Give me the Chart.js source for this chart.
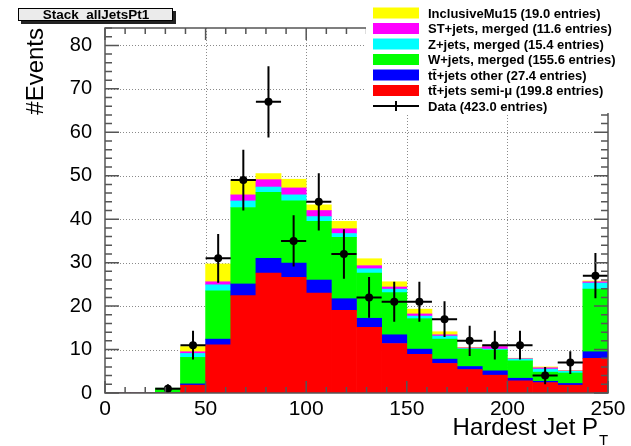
<!DOCTYPE html>
<html>
<head>
<meta charset="utf-8">
<script src="https://cdn.jsdelivr.net/npm/chart.js@4.4.1/dist/chart.umd.min.js"></script>
<style>
	body { margin: 0; background: #fff; }
	#wrap { width: 631px; height: 446px; }
</style>
</head>
<body>
<div id="wrap"><canvas id="c" width="631" height="446"></canvas></div>
<script>
// leading jet pT, 20 bins of 12.5 GeV from 0 to 250
const binCenters = [6.25, 18.75, 31.25, 43.75, 56.25, 68.75, 81.25, 93.75, 106.25, 118.75,
	131.25, 143.75, 156.25, 168.75, 181.25, 193.75, 206.25, 218.75, 231.25, 243.75];
const binWidth = 12.5;

// MC samples, stacked bottom to top
const ttSemiMu  = [0, 0, 0, 1.8, 11.1, 22.4, 27.6, 26.6, 23.0, 19.0, 15.1, 11.4, 8.9, 6.8, 5.4, 4.1, 2.8, 2.4, 1.8, 8.0];
const ttOther   = [0, 0, 0, 0.3, 1.3, 2.7, 3.4, 3.3, 3.0, 2.7, 2.1, 2.0, 1.2, 1.0, 0.7, 1.0, 0.6, 0.3, 0.4, 1.5];
const wJets     = [0, 0, 1.1, 6.1, 11.1, 17.6, 15.2, 14.3, 13.5, 14.1, 10.4, 9.7, 7.0, 4.6, 4.0, 4.8, 4.0, 2.1, 2.4, 14.4];
const zJets     = [0, 0, 0, 0.9, 1.4, 1.5, 1.2, 1.4, 1.1, 0.9, 1.0, 0.8, 0.6, 0.7, 0.1, 0.2, 0.4, 0.7, 0.4, 1.4];
const stJets    = [0, 0, 0, 0.4, 0.7, 1.4, 1.7, 1.6, 1.4, 1.1, 0.7, 0.5, 0.5, 0.3, 0.2, 0.6, 0.1, 0.3, 0.1, 0.3];
const qcdMu15   = [0, 0, 0, 1.2, 4.1, 3.3, 1.4, 2.0, 1.3, 1.7, 1.6, 1.2, 1.1, 0.7, 0.1, 0.3, 0.1, 0.2, 0.1, 0.2];

// data counts and their errors
const dataCounts = [0, 0, 1, 11, 31, 49, 67, 35, 44, 32, 22, 21, 21, 17, 12, 11, 11, 4, 7, 27];
const dataErr    = [0, 0, 1.0, 3.3, 5.6, 7.0, 8.2, 5.9, 6.6, 5.7, 4.7, 4.6, 4.6, 4.1, 3.5, 3.3, 3.3, 2.0, 2.6, 5.2];

const xTicks = [0, 50, 100, 150, 200, 250];
const yMax = 84;

const FONT = '"Liberation Sans", Arial, Helvetica, sans-serif';

function bar(label, values, color) {
	return {
		type: 'bar',
		label: label,
		data: values,
		backgroundColor: color,
		borderWidth: 0,
		stack: 'mc',
		barPercentage: 1,
		categoryPercentage: 1,
	};
}

// grid, frame, ticks, error bars, legend and titles in ROOT style
const rootPad = {
	id: 'rootPad',
	beforeDatasetsDraw(chart) {
		const { ctx, chartArea: a, scales: { x, y } } = chart;
		ctx.save();
		ctx.strokeStyle = '#8a8a8a';
		ctx.lineWidth = 1;
		ctx.setLineDash([1, 2]);
		ctx.beginPath();
		x.ticks.forEach(t => {
			const px = Math.round(x.getPixelForValue(t.value)) + 0.5;
			if (px < a.left + 2 || px > a.right - 2) return;
			ctx.moveTo(px, a.top);
			ctx.lineTo(px, a.bottom);
		});
		y.ticks.forEach(t => {
			const py = Math.round(y.getPixelForValue(t.value)) + 0.5;
			if (py > a.bottom - 2) return;
			ctx.moveTo(a.left, py);
			ctx.lineTo(a.right, py);
		});
		ctx.stroke();
		ctx.restore();
	},
	afterDatasetsDraw(chart) {
		const { ctx, chartArea: a, scales: { x, y } } = chart;
		ctx.save();

		// data error bars
		ctx.strokeStyle = '#000';
		ctx.lineWidth = 2;
		ctx.beginPath();
		dataCounts.forEach((n, i) => {
			if (!n) return;
			const cx = x.getPixelForValue(binCenters[i]);
			const cy = y.getPixelForValue(n);
			ctx.moveTo(x.getPixelForValue(binCenters[i] - binWidth / 2), cy);
			ctx.lineTo(x.getPixelForValue(binCenters[i] + binWidth / 2), cy);
			ctx.moveTo(cx, y.getPixelForValue(n - dataErr[i]));
			ctx.lineTo(cx, y.getPixelForValue(n + dataErr[i]));
		});
		ctx.stroke();

		// frame and tick marks (ticks point inward, on all four sides)
		ctx.strokeStyle = '#555';
		ctx.lineWidth = 1.5;
		ctx.strokeRect(a.left, a.top, a.right - a.left, a.bottom - a.top);
		ctx.beginPath();
		for (let v = 0; v <= 250; v += 10) {
			const px = x.getPixelForValue(v);
			const len = v % 50 === 0 ? 12 : 6;
			ctx.moveTo(px, a.bottom);
			ctx.lineTo(px, a.bottom - len);
			ctx.moveTo(px, a.top);
			ctx.lineTo(px, a.top + len);
		}
		for (let v = 0; v <= yMax; v += 2) {
			const py = y.getPixelForValue(v);
			const len = v % 10 === 0 ? 14 : 7;
			ctx.moveTo(a.left, py);
			ctx.lineTo(a.left + len, py);
			ctx.moveTo(a.right, py);
			ctx.lineTo(a.right - len, py);
		}
		ctx.stroke();

		// legend
		ctx.fillStyle = '#fff';
		ctx.fillRect(366, 0, chart.width - 366, 113);
		const ds = chart.data.datasets;
		const entries = ds.slice(1).reverse().concat([ds[0]]);
		ctx.font = 'bold 13px ' + FONT;
		ctx.textBaseline = 'middle';
		ctx.textAlign = 'left';
		entries.forEach((d, i) => {
			const ry = 13 + i * 15.5;
			if (d.type === 'bar') {
				ctx.fillStyle = d.backgroundColor;
				ctx.fillRect(373, ry - 5.5, 46, 11);
			} else {
				ctx.strokeStyle = '#000';
				ctx.lineWidth = 2;
				ctx.beginPath();
				ctx.moveTo(373, ry);
				ctx.lineTo(419, ry);
				ctx.moveTo(396, ry - 5);
				ctx.lineTo(396, ry + 5);
				ctx.stroke();
			}
			ctx.fillStyle = '#000';
			ctx.fillText(d.label, 428, ry + 1);
		});

		// histogram title box
		ctx.fillStyle = '#222';
		ctx.fillRect(21, 11, 155, 13);
		ctx.fillStyle = '#ebebeb';
		ctx.fillRect(18, 8, 155, 13);
		ctx.strokeStyle = '#000';
		ctx.lineWidth = 1;
		ctx.strokeRect(18.5, 8.5, 154, 12);
		ctx.fillStyle = '#000';
		ctx.font = 'bold 13.5px ' + FONT;
		ctx.textAlign = 'center';
		ctx.fillText('Stack_allJetsPt1', 96, 15);

		// axis titles
		ctx.font = '24px ' + FONT;
		ctx.textBaseline = 'alphabetic';
		ctx.textAlign = 'right';
		ctx.fillText('Hardest Jet P', 598, 435);
		ctx.font = '15px ' + FONT;
		ctx.textAlign = 'left';
		ctx.fillText('T', 599, 445);

		ctx.translate(43, 28);
		ctx.rotate(-Math.PI / 2);
		ctx.font = '24px ' + FONT;
		ctx.textAlign = 'right';
		ctx.fillText('#Events', 0, 0);
		ctx.restore();
	}
};

new Chart(document.getElementById('c'), {
	type: 'bar',
	data: {
		labels: binCenters,
		datasets: [
			{
				type: 'scatter',
				label: 'Data (423.0 entries)',
				data: dataCounts.map(n => n > 0 ? n : null),
				backgroundColor: '#000',
				borderColor: '#000',
				borderWidth: 0,
				pointRadius: 4,
				showLine: false,
			},
			bar('t\u0074\u0304+jets semi-\u03bc (199.8 entries)', ttSemiMu, '#ff0000'),
			bar('t\u0074\u0304+jets other (27.4 entries)', ttOther, '#0000ff'),
			bar('W+jets, merged (155.6 entries)', wJets, '#00ff00'),
			bar('Z+jets, merged (15.4 entries)', zJets, '#00ffff'),
			bar('ST+jets, merged (11.6 entries)', stJets, '#ff00ff'),
			bar('InclusiveMu15 (19.0 entries)', qcdMu15, '#ffff00'),
		],
	},
	options: {
		responsive: false,
		animation: false,
		events: [],
		layout: { padding: { left: 0, right: 23, top: 28, bottom: 0 } },
		plugins: { legend: { display: false }, tooltip: { enabled: false } },
		scales: {
			x: {
				type: 'linear',
				min: 0,
				max: 250,
				offset: false,
				grid: { display: false, offset: false },
				border: { display: false },
				afterBuildTicks: s => { s.ticks = xTicks.map(v => ({ value: v })); },
				afterFit: s => { s.height = 53; s.paddingLeft = 0; s.paddingRight = 0; },
				ticks: { color: '#000', padding: -4, maxRotation: 0, autoSkip: false, font: { family: FONT, size: 21 } },
			},
			y: {
				stacked: true,
				min: 0,
				max: yMax,
				grid: { display: false },
				border: { display: false },
				afterFit: s => { s.width = 105; },
				ticks: { stepSize: 10, includeBounds: false, color: '#000', padding: 5, font: { family: FONT, size: 20 } },
			},
		},
	},
	plugins: [rootPad],
});
</script>
</body>
</html>
